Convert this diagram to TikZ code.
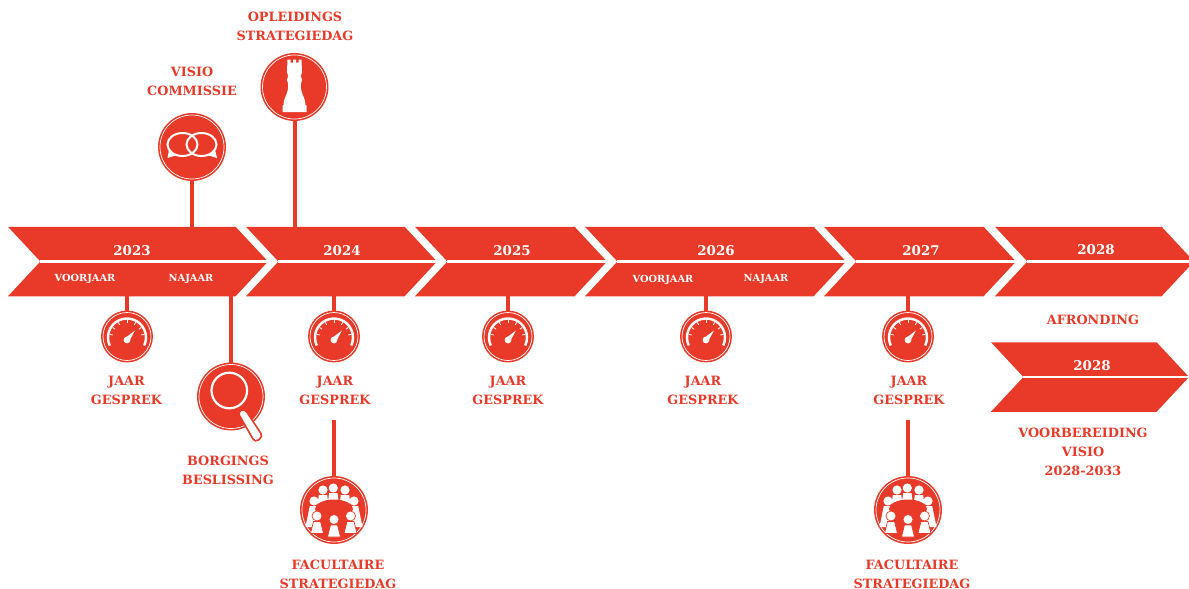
\documentclass[tikz,border=0pt]{standalone}
\usepackage{fontspec}
\setmainfont{DejaVu Serif}
\usetikzlibrary{shapes.symbols}
\definecolor{tlred}{HTML}{E83929}

\begin{document}
\begin{tikzpicture}[
	x = 1pt, y = -1pt,
	chevron/.style = {signal, signal from=west, signal to=east, signal pointer angle=94,
		fill=tlred, inner sep=0pt, outer sep=0pt, minimum height=69.5pt},
	divider/.style = {draw=white, line width=2.4pt},
	pole/.style = {draw=tlred, line width=4pt},
	badge/.style = {circle, fill=tlred, draw=tlred, double=white, double distance=.7pt,
		line width=1.6pt, inner sep=0pt, outer sep=1.9pt, minimum size=64pt},
	smallbadge/.style = {badge, minimum size=48pt},
	year/.style = {text=white, font=\bfseries\fontsize{13.4}{15}\selectfont},
	season/.style = {text=white, font=\bfseries\fontsize{9.8}{10}\selectfont},
	lbl/.style = {text=tlred, align=center, inner sep=0pt, font=\bfseries\fontsize{12.8}{19}\selectfont},
	gauge/.pic = {
		\draw[white, line width=2.4pt] (205:19pt) ++(0,1) arc (205:-25:19pt);
		\foreach \a in {170,145,120,90,60,35,10}
			\draw[white, line width=.8pt] (\a:17.5pt) ++(0,1) -- ++(\a:-3pt);
		\fill[white] (0,3.5) circle (3.4pt);
		\fill[white] (-2,1.6) -- (8,-6) -- (2,5) -- cycle;
	},
	bubbles/.pic = {
		\draw[white, line width=2pt] (-9.5,-2.5) ellipse [x radius=15pt, y radius=11.5pt];
		\draw[white, line width=2pt] (9.5,-2.5) ellipse [x radius=15pt, y radius=11.5pt];
		\fill[white] (-23,3) -- (-24.5,11) -- (-15,8) -- (-18,6.5) -- cycle;
		\fill[white] (23,3) -- (25,11) -- (15,8) -- (18,6.5) -- cycle;
	},
	rook/.pic = {
		\fill[white] (-7,-27.5) -- (-4,-27.5) -- (-4,-24.5) -- (-1.5,-24.5) -- (-1.5,-27.5) -- (1.5,-27.5)
			-- (1.5,-24.5) -- (4,-24.5) -- (4,-27.5) -- (7,-27.5) -- (7.5,-15)
			.. controls (6,-12) and (6,-10) .. (7.5,-7)
			.. controls (6,-3) and (6,0) .. (7,4)
			.. controls (8,9) and (11,12) .. (11,18)
			-- (12,18.5) -- (12,25) -- (-12,25) -- (-12,18.5) -- (-11,18)
			.. controls (-11,12) and (-8,9) .. (-7,4)
			.. controls (-6,0) and (-6,-3) .. (-7.5,-7)
			.. controls (-6,-10) and (-6,-12) .. (-7.5,-15) -- cycle;
	},
	lens/.pic = {
		\draw[white, line width=2.2pt] (-1.7,-6) circle (17.8pt);
		\draw[tlred, fill=white, line width=1.6pt, rounded corners=4pt]
			(6.5,15.5) -- (13.5,12) -- (32,40) -- (24,46) -- cycle;
	},
	table/.pic = {
		\foreach \hx/\hy/\dy/\sp in {-20/-9/26/-3, -11/-20/15/0, -.7/-22/15/0, 11/-20/15/0, 20/-9/26/3}
		{
			\fill[white] (\hx,\hy) circle (4.6pt);
			\fill[white] (\hx-4.2,\hy+5) -- (\hx+4.2,\hy+5) -- (\hx+5.5+\sp,\hy+\dy) -- (\hx-5.5+\sp,\hy+\dy) -- cycle;
		}
		\fill[tlred] (0,-1) ellipse [x radius=19pt, y radius=9.5pt];
		\foreach \hx/\hy in {-17/6, 0/9.5, 16.5/6}
		{
			\fill[white, draw=tlred, line width=.7pt] (\hx,\hy) circle (5pt);
			\fill[white, draw=tlred, line width=.7pt] (\hx-3.5,\hy+5.5) -- (\hx+3.5,\hy+5.5) -- (\hx+6.5,\hy+17.5) -- (\hx-6.5,\hy+17.5) -- cycle;
		}
	},
	]
	\clip (0,0) rectangle (1189,589);
	% chevrons
	\foreach \n/\x/\w/\yr/\tx/\ty/\cy in {ya/138/260/2023/132/250.5/261.5, yb/341.5/191/2024/342/250.5/261.5,
		yc/511/192/2025/512/250.5/261.5, yd/715.5/261/2026/716/250.5/261.5, ye/920/192/2027/921/250.5/261.5,
		yf/1094.5/199/2028/1096/249.5/261.5, yg/1090/198/2028/1092/365.5/377}
	{
		\node[chevron, minimum width=\w pt] (\n) at (\x,\cy) {};
		\draw[divider] (\n.west) -- (\n.east);
		\node[year] (t\n) at (\tx,\ty) {\yr};
	}
	\node[season] (va) at (85,278.5) {VOORJAAR};
	\node[season] (na) at (191,278.5) {NAJAAR};
	\node[season] (vd) at (663,279.5) {VOORJAAR};
	\node[season] (nd) at (766,278.5) {NAJAAR};
	% above the line
	\node[badge] (visio) at (192,147) {};
	\pic at (192,147) {bubbles};
	\node[lbl] (lvisio) at (192,81) {VISIO\\COMMISSIE};
	\draw[pole] (visio.south) -- (visio.south |- ya.north);
	\node[badge] (opl) at (294.5,87) {};
	\pic at (294.5,87) {rook};
	\node[lbl] (lopl) at (295,26) {OPLEIDINGS\\STRATEGIEDAG};
	\draw[pole] (opl.south) -- (opl.south |- yb.north);
	% yearly talks
	\foreach \n/\x/\tx/\up in {ga/127/126.5/ya, gb/334/335/yb, gc/508/508/yc, gd/706/703/yd, ge/908/909/ye}
	{
		\node[smallbadge] (\n) at (\x,336.5) {};
		\pic at (\x,336.5) {gauge};
		\node[lbl] (l\n) at (\tx,390) {JAAR\\GESPREK};
		\draw[pole] (\up.south -| \n.north) -- (\n.north);
	}
	% below the line
	\node[badge] (borg) at (231,396.5) {};
	\pic at (231,396.5) {lens};
	\node[lbl] (lborg) at (228,470) {BORGINGS\\BESLISSING};
	\draw[pole] (borg.north |- ya.south) -- (borg.north);
	\foreach \n/\x in {fa/334, fb/908}
	{
		\node[badge] (\n) at (\x,510) {};
		\pic at (\x,510) {table};
		\node[lbl] (l\n) at (\x+4,574) {FACULTAIRE\\STRATEGIEDAG};
		\coordinate (c\n) at (\x,419.5);
		\draw[pole] (c\n) -- (\n.north);
	}
	% last column
	\node[lbl] (lafr) at (1093,319.5) {AFRONDING};
	\node[lbl] (lvoor) at (1083,451.5) {VOORBEREIDING\\VISIO\\2028-2033};
\end{tikzpicture}
\end{document}
